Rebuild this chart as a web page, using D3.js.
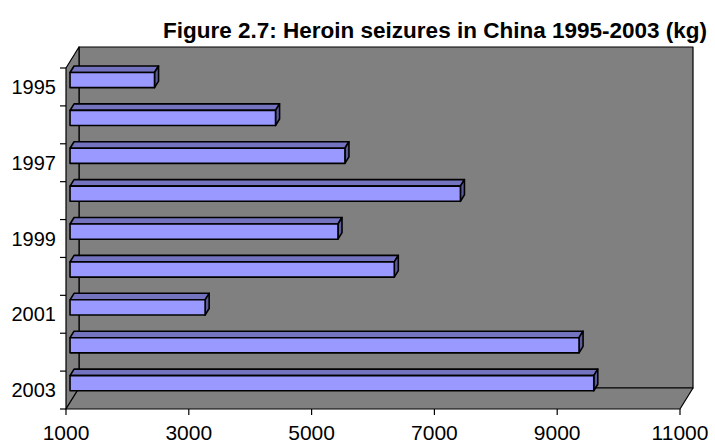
<!DOCTYPE html>
<html>
<head>
<meta charset="utf-8">
<script src="https://cdn.jsdelivr.net/npm/d3@7"></script>
<style>
body{margin:0;background:#fff;}
text{font-family:Arial,"Liberation Sans",sans-serif;fill:#000;}
</style>
</head>
<body>
<svg id="chart" width="715" height="444"></svg>
<script>
var years=["1995","1996","1997","1998","1999","2000","2001","2002","2003"];
var seizures=[2376,4347,5477,7358,5364,6281,3200,9290,9530];
var xTicks=[1000,3000,5000,7000,9000,11000];
var yLabels=["1995","1997","1999","2001","2003"];

var svg=d3.select("#chart");
// front plane of the 3d box, depth offset goes up-right
var depthX=13,depthY=-21;
var x=d3.scaleLinear().domain([1000,11000]).range([66,680]);
var y=d3.scaleBand().domain(years).range([68,409]);
var bw=y.bandwidth();
function proj(px,py,d){return [px+depthX*d,py+depthY*d];}
var line=d3.line();

var x0=x.range()[0],x1=x.range()[1],yTop=y.range()[0],yBot=y.range()[1];
var walls=svg.append("g").attr("fill","#808080").attr("stroke","#000").attr("stroke-width",1.2).attr("stroke-linejoin","round");
// back wall
walls.append("path").attr("d",line([proj(x0,yTop,1),proj(x1,yTop,1),proj(x1,yBot,1),proj(x0,yBot,1)])+"Z");
// left wall
walls.append("path").attr("d",line([proj(x0,yTop,0),proj(x0,yTop,1),proj(x0,yBot,1),proj(x0,yBot,0)])+"Z");
// floor
walls.append("path").attr("d",line([proj(x0,yBot,0),proj(x0,yBot,1),proj(x1,yBot,1),proj(x1,yBot,0)])+"Z");

// axis ticks
var axes=svg.append("g").attr("stroke","#000").attr("stroke-width",1.2);
axes.selectAll(".yt").data(years.concat(["end"])).enter().append("line")
    .attr("x1",x0-6).attr("x2",x0)
    .attr("y1",function(d,i){return yTop+i*bw;})
    .attr("y2",function(d,i){return yTop+i*bw;});
axes.selectAll(".xt").data(xTicks).enter().append("line")
    .attr("x1",function(d){return x(d);}).attr("x2",function(d){return x(d);})
    .attr("y1",yBot).attr("y2",yBot+6);

// bars
var dFront=0.31,dBack=0.62;
var bars=svg.append("g").attr("stroke","#000").attr("stroke-width",1.6).attr("stroke-linejoin","round");
years.forEach(function(yr,i){
    var v=seizures[i];
    var top=y(yr)+bw*0.29,bot=top+bw*0.4;
    var xa=x(1000),xb=x(v);
    var g=bars.append("g");
    g.append("path").attr("fill","#7373BF")
        .attr("d",line([proj(xa,top,dFront),proj(xa,top,dBack),proj(xb,top,dBack),proj(xb,top,dFront)])+"Z");
    g.append("path").attr("fill","#5C5C99")
        .attr("d",line([proj(xb,top,dFront),proj(xb,top,dBack),proj(xb,bot,dBack),proj(xb,bot,dFront)])+"Z");
    g.append("path").attr("fill","#9999FF")
        .attr("d",line([proj(xa,top,dFront),proj(xb,top,dFront),proj(xb,bot,dFront),proj(xa,bot,dFront)])+"Z");
});

// labels
svg.append("g").selectAll("text").data(yLabels).enter().append("text")
    .attr("x",56).attr("y",function(d){return y(d)+bw/2;})
    .attr("text-anchor","end").attr("dominant-baseline","central")
    .style("font-size","20px").text(function(d){return d;});
svg.append("g").selectAll("text").data(xTicks).enter().append("text")
    .attr("x",function(d){return x(d);}).attr("y",440)
    .attr("text-anchor","middle").style("font-size","21px")
    .text(function(d){return d;});
svg.append("text").attr("x",707).attr("y",38).attr("text-anchor","end")
    .style("font-size","22.5px").style("font-weight","bold")
    .text("Figure 2.7: Heroin seizures in China 1995-2003 (kg)");
</script>
</body>
</html>
